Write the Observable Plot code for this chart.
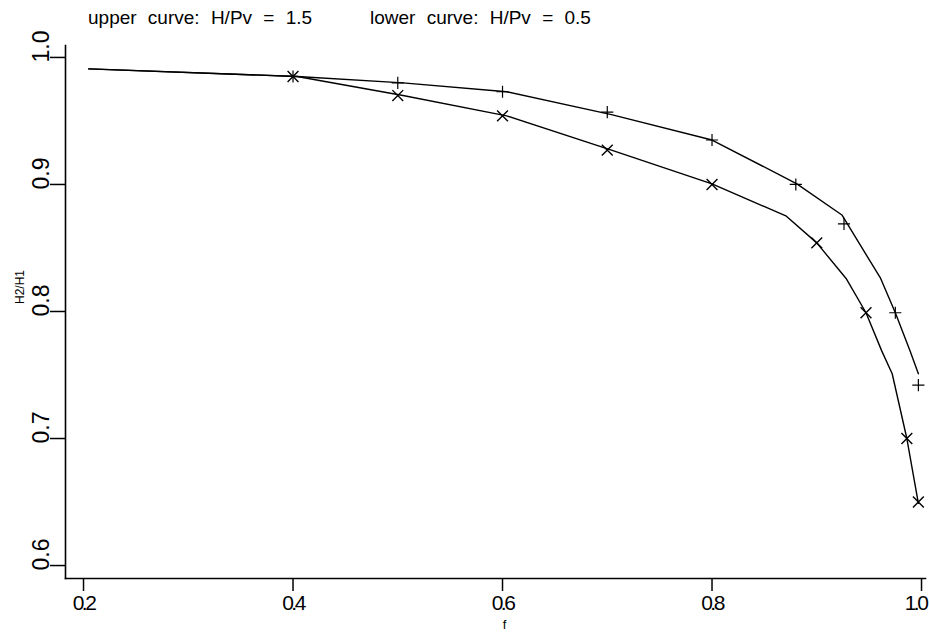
<!DOCTYPE html>
<html><head><meta charset="utf-8">
<script src="https://cdn.jsdelivr.net/npm/d3@7"></script>
<script src="https://cdn.jsdelivr.net/npm/@observablehq/plot@0.6"></script>
<style>
body{margin:0;background:#fff;}
#title{height:30px;font-family:"Liberation Sans",Arial,sans-serif;font-size:19px;position:relative;color:#000;}
#title span{position:absolute;top:7px;word-spacing:6px;white-space:nowrap;}
</style></head><body>
<div id="title"><span id="t1" style="left:88px"></span><span id="t2" style="left:370px"></span></div>
<div id="chart"></div>
<script>
const titleUpper = "upper curve: H/Pv = 1.5";
const titleLower = "lower curve: H/Pv = 0.5";
const xLabel = "f";
const yLabel = "H2/H1";
const xTicks = [0.2, 0.4, 0.6, 0.8, 1.0];
const yTicks = [0.6, 0.7, 0.8, 0.9, 1.0];

// curves (lines)
const upperLineF = [0.205, 0.404, 0.505, 0.604, 0.704, 0.8, 0.881, 0.924, 0.961, 0.975, 0.989, 0.997];
const upperLineV = [0.991, 0.985, 0.980, 0.973, 0.955, 0.935, 0.9005, 0.876, 0.826, 0.799, 0.769, 0.751];
const lowerLineF = [0.205, 0.404, 0.505, 0.604, 0.704, 0.8, 0.871, 0.9, 0.928, 0.947, 0.962, 0.972, 0.986, 0.997];
const lowerLineV = [0.991, 0.985, 0.970, 0.954, 0.927, 0.9005, 0.875, 0.854, 0.826, 0.799, 0.769, 0.751, 0.700, 0.649];

// markers
const upperF = [0.4, 0.5, 0.6, 0.7, 0.8, 0.88, 0.926, 0.975, 0.997];
const upperV = [0.985, 0.980, 0.973, 0.957, 0.935, 0.900, 0.869, 0.799, 0.742];
const lowerF = [0.4, 0.5, 0.6, 0.7, 0.8, 0.9, 0.947, 0.986, 0.997];
const lowerV = [0.985, 0.970, 0.954, 0.927, 0.900, 0.854, 0.799, 0.700, 0.650];

document.getElementById("t1").textContent = titleUpper;
document.getElementById("t2").textContent = titleLower;

const toRows = (fs, vs) => fs.map((f, i) => ({f, v: vs[i]}));
const upperLine = toRows(upperLineF, upperLineV);
const lowerLine = toRows(lowerLineF, lowerLineV);
const upperPts = toRows(upperF, upperV);
const lowerPts = toRows(lowerF, lowerV);
const font = "'Liberation Sans', Arial, sans-serif";

const chart = Plot.plot({
  width: 929,
  height: 604,
  marginLeft: 65,
  marginRight: 4,
  marginTop: 15,
  marginBottom: 56,
  style: {background: "#fff", color: "#000", overflow: "visible"},
  x: {domain: [0.1828, 1.0038]},
  y: {domain: [0.5898, 1.0094]},
  marks: [
    Plot.frame({anchor: "left", strokeWidth: 1.6}),
    Plot.frame({anchor: "bottom", strokeWidth: 1.6}),
    Plot.axisX({ticks: xTicks, tickSize: 13, tickPadding: 4, tickFormat: d => d.toFixed(1),
      fontSize: 21, fontFamily: font, strokeWidth: 1.5, label: null}),
    Plot.axisY({ticks: yTicks, tickSize: 15, tickFormat: () => "", strokeWidth: 1.5, label: null}),
    Plot.text(yTicks, {y: d => d, text: d => d.toFixed(1), frameAnchor: "left", dx: -24, dy: 5,
      rotate: -90, fontSize: 23, fontFamily: font}),
    Plot.text([yLabel], {frameAnchor: "left", dx: -45, dy: -8, rotate: -90, fontSize: 12, fontFamily: font}),
    Plot.text([xLabel], {frameAnchor: "bottom", dx: 9, dy: 50, fontSize: 13, fontFamily: font}),
    Plot.line(upperLine, {x: "f", y: "v", stroke: "#000", strokeWidth: 1.4}),
    Plot.line(lowerLine, {x: "f", y: "v", stroke: "#000", strokeWidth: 1.4}),
    Plot.dot(upperPts, {x: "f", y: "v", symbol: "plus", r: 4, stroke: "#000", strokeWidth: 1.2}),
    Plot.dot(lowerPts, {x: "f", y: "v", symbol: "times", r: 5, stroke: "#000", strokeWidth: 1.4})
  ]
});
const xLabelNodes = d3.select(chart).selectAll("g[aria-label='x-axis tick label'] text")
  .style("letter-spacing", "-2.5px").nodes();
if (xLabelNodes.length) d3.select(xLabelNodes[xLabelNodes.length - 1]).attr("dx", -6);
document.getElementById("chart").appendChild(chart);
</script>
</body></html>
